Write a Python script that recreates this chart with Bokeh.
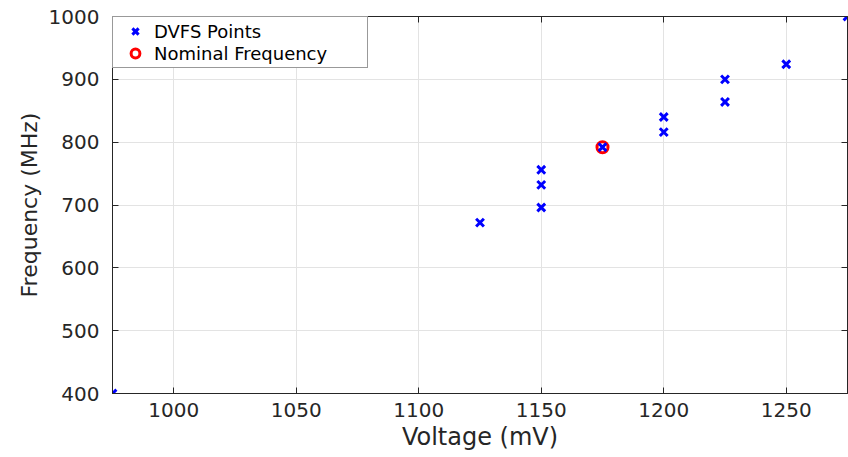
from bokeh.plotting import figure
from bokeh.models import (Range1d, LinearAxis, FixedTicker, Legend, LegendItem,
                          ColumnDataSource)
from bokeh.embed import file_html
from bokeh.resources import INLINE

# ---- data ----
dvfs_voltage = [975, 1125, 1150, 1150, 1150, 1175, 1200, 1200, 1225, 1225, 1250, 1275]
dvfs_freq = [400, 672, 696, 732, 756, 792, 816, 840, 864, 900, 924, 1000]
nominal_voltage = [1175]
nominal_freq = [792]
x_ticks = [1000, 1050, 1100, 1150, 1200, 1250]
y_ticks = [400, 500, 600, 700, 800, 900, 1000]

FONT = "DejaVu Sans"
TXT = "#262626"

p = figure(width=848, height=457, output_backend="svg", toolbar_location=None,
           x_range=Range1d(975, 1275), y_range=Range1d(400, 1000),
           x_axis_location=None, y_axis_location=None,
           min_border_left=112, min_border_right=1, min_border_top=16,
           min_border_bottom=64)
p.background_fill_color = "white"
p.border_fill_color = "white"
p.outline_line_color = TXT
p.outline_line_width = 1

def make_axis(ticks, label=None, show_labels=True, standoff=11,
              label_size="24px", label_standoff=4):
    ax = LinearAxis(ticker=FixedTicker(ticks=ticks))
    ax.major_tick_in = 6
    ax.major_tick_out = 0
    ax.minor_tick_in = 0
    ax.minor_tick_out = 0
    ax.axis_line_color = TXT
    ax.major_tick_line_color = TXT
    ax.major_label_text_font = FONT
    ax.major_label_text_color = TXT
    ax.major_label_text_font_size = "20px"
    if show_labels:
        ax.major_label_standoff = standoff
    else:
        ax.major_label_overrides = {t: "" for t in ticks}
        ax.major_label_standoff = 0
    if label:
        ax.axis_label = label
        ax.axis_label_text_font = FONT
        ax.axis_label_text_font_size = label_size
        ax.axis_label_text_font_style = "normal"
        ax.axis_label_text_color = TXT
        ax.axis_label_standoff = label_standoff
    return ax

p.add_layout(make_axis(x_ticks, "Voltage (mV)", standoff=9,
                       label_size="24px", label_standoff=3), "below")
p.add_layout(make_axis(y_ticks, "Frequency (MHz)", standoff=13,
                       label_size="22px", label_standoff=4), "left")
p.add_layout(make_axis(x_ticks, show_labels=False), "above")
p.add_layout(make_axis(y_ticks, show_labels=False), "right")

p.xgrid.ticker = FixedTicker(ticks=x_ticks)
p.ygrid.ticker = FixedTicker(ticks=y_ticks)
p.grid.grid_line_color = "#e3e3e3"
p.grid.grid_line_width = 1

src_nom = ColumnDataSource(dict(x=nominal_voltage, y=nominal_freq))
src_dvfs = ColumnDataSource(dict(x=dvfs_voltage, y=dvfs_freq))

r_nom = p.scatter("x", "y", source=src_nom, marker="circle", size=11,
                  line_color="red", line_width=3, fill_color=None)
r_dvfs = p.scatter("x", "y", source=src_dvfs, marker="x", size=11,
                   line_color="blue", line_width=3)

legend = Legend(items=[LegendItem(label="DVFS Points", renderers=[r_dvfs]),
                       LegendItem(label="Nominal Frequency", renderers=[r_nom])],
                location="top_left")
legend.margin = 0
legend.padding = 3
legend.spacing = 0
legend.glyph_width = 38
legend.glyph_height = 22
legend.label_height = 22
legend.label_width = 210
legend.label_standoff = 0
legend.label_text_font = FONT
legend.label_text_font_size = "18px"
legend.label_text_color = "black"
legend.border_line_color = "#333333"
legend.border_line_width = 1
legend.background_fill_color = "white"
legend.background_fill_alpha = 1
p.add_layout(legend, "center")

open("out.html", "w").write(file_html(p, INLINE))
